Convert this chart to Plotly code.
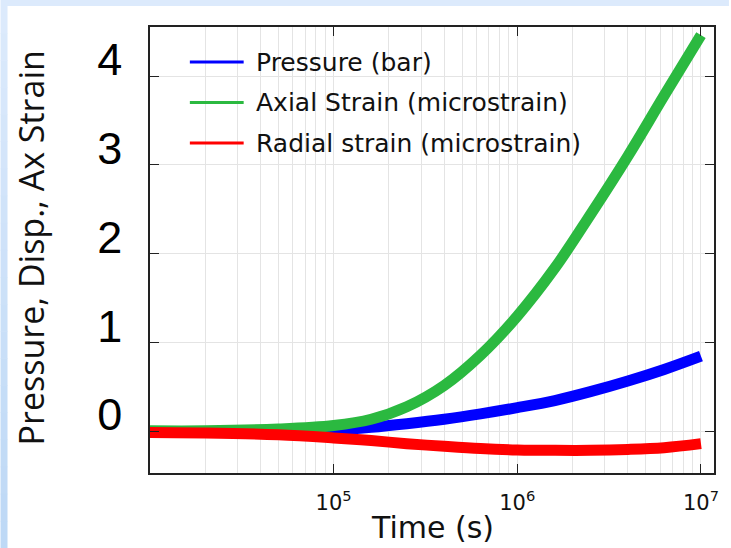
import plotly.graph_objects as go

# Time samples (s) and the three response curves
time_s = [1e4, 2e4, 5e4, 1e5, 1.6e5, 2.5e5, 4e5, 6.3e5,
          1e6, 1.6e6, 2.5e6, 4e6, 6.3e6, 1e7]
pressure_bar = [0.0, 0.0, 0.005, 0.02, 0.05, 0.09, 0.14, 0.20,
                0.27, 0.35, 0.45, 0.57, 0.70, 0.85]
axial_strain = [0.01, 0.01, 0.03, 0.07, 0.14, 0.28, 0.52, 0.86,
                1.30, 1.84, 2.44, 3.10, 3.78, 4.46]
radial_strain = [-0.01, -0.015, -0.035, -0.07, -0.10, -0.135, -0.165, -0.19,
                 -0.205, -0.21, -0.21, -0.20, -0.18, -0.135]

series_names = ["Pressure (bar)", "Axial Strain (microstrain)", "Radial strain (microstrain)"]
series_colors = ["#0000ff", "#2bb940", "#ff0000"]
series_values = [pressure_bar, axial_strain, radial_strain]

x_tick_vals = [1e5, 1e6, 1e7]
x_tick_text = ["10<sup>5</sup>", "10<sup>6</sup>", "10<sup>7</sup>"]
x_minor_vals = [m * 10 ** k for k in range(4, 7) for m in range(2, 10)]
y_tick_vals = [0, 1, 2, 3, 4]

W, H = 731, 548
L, R, T, B = 150, 15, 27, 75
PW, PH = W - L - R, H - T - B


def px(x):
    return (x - L) / PW


def py(y):
    return (H - B - y) / PH


fig = go.Figure()
for name, color, vals in zip(series_names, series_colors, series_values):
    fig.add_trace(go.Scatter(
        x=time_s, y=vals, mode="lines", name=name,
        line=dict(color=color, width=11, shape="spline", smoothing=1.0),
        showlegend=False,
    ))

shapes = []
annotations = []

# light blue frame around the white panel (top strip + gradient left strip)
shapes.append(dict(type="rect", xref="paper", yref="paper",
                   x0=px(0), x1=px(W), y0=py(0), y1=py(6),
                   fillcolor="#dceafc", line=dict(width=0), layer="below"))
n_seg = 20
for i in range(n_seg):
    t = i / (n_seg - 1)
    r = int(220 + (190 - 220) * t)
    g = int(234 + (217 - 234) * t)
    b = int(252 + (246 - 252) * t)
    y0 = 6 + (H - 6) * i / n_seg
    y1 = 6 + (H - 6) * (i + 1) / n_seg
    shapes.append(dict(type="rect", xref="paper", yref="paper",
                       x0=px(0), x1=px(7), y0=py(y0), y1=py(y1 + 0.5),
                       fillcolor=f"rgb({r},{g},{b})", line=dict(width=0), layer="below"))

# legend box
shapes.append(dict(type="rect", xref="paper", yref="paper",
                   x0=px(165), x1=px(592), y0=py(49), y1=py(160),
                   fillcolor="white", line=dict(width=0), layer="between"))
legend_rows = [62, 102.5, 143]
for name, color, ry in zip(series_names, series_colors, legend_rows):
    shapes.append(dict(type="line", xref="paper", yref="paper",
                       x0=px(190), x1=px(244), y0=py(ry), y1=py(ry),
                       line=dict(color=color, width=3), layer="above"))
    annotations.append(dict(text=name, xref="paper", yref="paper",
                            x=px(254), y=py(ry), xanchor="left", yanchor="middle",
                            showarrow=False,
                            font=dict(family="DejaVu Sans", size=25, color="#111")))

# axis titles
annotations.append(dict(text="Time (s)", xref="paper", yref="paper",
                        x=px(433), y=py(527), xanchor="center", yanchor="middle",
                        showarrow=False,
                        font=dict(family="DejaVu Sans", size=30, color="#111")))
annotations.append(dict(text="Pressure, Disp., Ax Strain", xref="paper", yref="paper",
                        x=px(31), y=py(248), xanchor="center", yanchor="middle",
                        textangle=-90, showarrow=False,
                        font=dict(family="Open Sans", size=34, color="#111")))

grid_color = "#e4e4e4"
fig.update_layout(
    width=W, height=H,
    margin=dict(l=L, r=R, t=T, b=B, pad=0),
    paper_bgcolor="white", plot_bgcolor="white",
    showlegend=False,
    shapes=shapes, annotations=annotations,
    xaxis=dict(
        type="log", range=[4.0, 7.071],
        tickmode="array", tickvals=x_tick_vals, ticktext=x_tick_text,
        ticks="inside", ticklen=9, tickwidth=1.2, tickcolor="#222",
        showline=True, linecolor="#222", linewidth=1.5, mirror="ticks",
        showgrid=True, gridcolor=grid_color, gridwidth=1,
        minor=dict(tickvals=x_minor_vals, showgrid=True, gridcolor=grid_color,
                   gridwidth=1, ticks=""),
        tickfont=dict(family="DejaVu Sans", size=21, color="#111"),
        ticklabelstandoff=10,
        zeroline=False,
    ),
    yaxis=dict(
        range=[-0.465, 4.552],
        tickmode="array", tickvals=y_tick_vals,
        ticks="inside", ticklen=9, tickwidth=1.2, tickcolor="#222",
        showline=True, linecolor="#222", linewidth=1.5, mirror="ticks",
        showgrid=True, gridcolor=grid_color, gridwidth=1,
        tickfont=dict(family="Liberation Sans", size=45, color="#000"),
        ticklabelstandoff=17, ticklabelshift=-17,
        zeroline=False,
    ),
)

fig.write_html("out.html")
